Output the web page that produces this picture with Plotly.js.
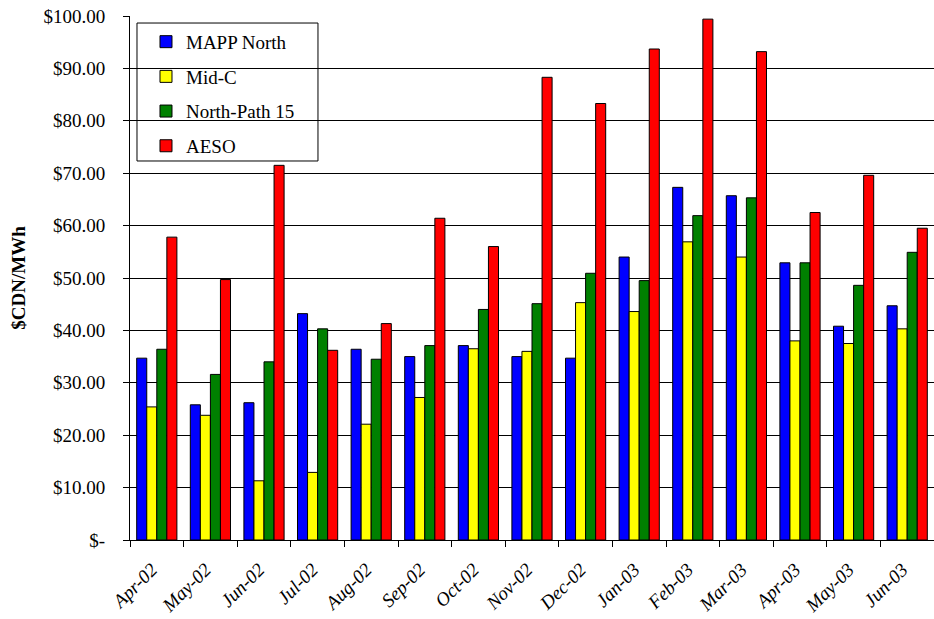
<!DOCTYPE html>
<html>
<head>
<meta charset="utf-8">
<script src="https://cdn.plot.ly/plotly-3.0.1.min.js"></script>
<style>html,body{margin:0;padding:0;background:#fff;}#chart{width:934px;height:619px;}</style>
</head>
<body>
<div id="chart"></div>
<script>
var months = ["Apr-02","May-02","Jun-02","Jul-02","Aug-02","Sep-02","Oct-02","Nov-02","Dec-02","Jan-03","Feb-03","Mar-03","Apr-03","May-03","Jun-03"];
var mappNorth = [34.7, 25.8, 26.2, 43.2, 36.4, 35.0, 37.1, 35.0, 34.7, 54.0, 67.3, 65.7, 52.9, 40.8, 44.7];
var midC      = [25.4, 23.8, 11.3, 12.9, 22.1, 27.2, 36.5, 36.0, 45.3, 43.6, 56.9, 54.0, 38.0, 37.5, 40.3];
var northP15  = [36.4, 31.6, 34.0, 40.3, 34.5, 37.1, 44.0, 45.1, 50.9, 49.5, 61.9, 65.3, 52.9, 48.6, 54.9];
var aeso      = [57.8, 49.7, 71.5, 36.2, 41.3, 61.4, 56.0, 88.3, 83.3, 93.7, 99.4, 93.2, 62.5, 69.6, 59.5];
var seriesNames = ["MAPP North", "Mid-C", "North-Path 15", "AESO"];
var seriesColors = ["#0000FF", "#FFFF00", "#008000", "#FF0000"];
var yTickVals = [0, 10, 20, 30, 40, 50, 60, 70, 80, 90, 100];
var yTickText = ["$-", "$10.00", "$20.00", "$30.00", "$40.00", "$50.00", "$60.00", "$70.00", "$80.00", "$90.00", "$100.00"];
var yTitle = "$CDN/MWh";

var allVals = [mappNorth, midC, northP15, aeso];
var font = "Times New Roman, Liberation Serif, DejaVu Serif, serif";
var traces = allVals.map(function (v, i) {
  return {
    type: "bar",
    x: months,
    y: v,
    name: seriesNames[i],
    legendgroup: "g" + i,
    marker: { color: seriesColors[i], line: { color: "#000", width: 1 } },
    hoverinfo: "x+y+name"
  };
});

var layout = {
  width: 934,
  height: 619,
  margin: { l: 130, r: 0, t: 16, b: 79 },
  paper_bgcolor: "#fff",
  plot_bgcolor: "#fff",
  barmode: "group",
  bargap: 0.25,
  bargroupgap: 0,
  font: { family: font, size: 19, color: "#000" },
  showlegend: true,
  legend: {
    x: 0.0199, y: 0.987, xanchor: "left", yanchor: "top",
    bgcolor: "rgba(0,0,0,0)", borderwidth: 0,
    font: { family: font, size: 19, color: "#000" },
    tracegroupgap: 7
  },
  xaxis: {
    type: "category",
    showline: true, linecolor: "#000", linewidth: 1,
    ticks: "outside", tickson: "boundaries", ticklen: 6, tickcolor: "#000",
    tickangle: -45,
    ticklabelstandoff: 10,
    ticklabelshift: -5,
    tickfont: { family: font, size: 19, color: "#000", style: "italic" },
    showgrid: false, zeroline: false, fixedrange: true
  },
  yaxis: {
    range: [0, 100],
    tickvals: yTickVals, ticktext: yTickText,
    showline: true, linecolor: "#000", linewidth: 1,
    ticks: "outside", ticklen: 6, tickcolor: "#000",
    ticklabelstandoff: 14,
    showgrid: true, gridcolor: "#000", gridwidth: 1,
    zeroline: false,
    tickfont: { family: font, size: 19, color: "#000" },
    title: { text: yTitle, font: { family: font, size: 19, color: "#000", weight: "bold" }, standoff: 12 },
    fixedrange: true
  },
  shapes: [{
    type: "rect", xref: "paper", yref: "paper", layer: "between",
    x0: 0.0087, x1: 0.2338, y0: 0.7233, y1: 0.9866,
    line: { color: "#000", width: 1 }, fillcolor: "#fff"
  }]
};

Plotly.newPlot("chart", traces, layout, { displayModeBar: false, staticPlot: true });
</script>
</body>
</html>
